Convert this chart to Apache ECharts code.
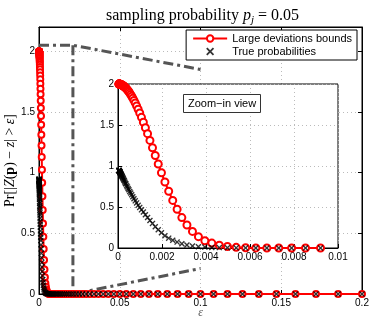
<!DOCTYPE html>
<html>
<head>
<meta charset="utf-8">
<script src="https://cdn.jsdelivr.net/npm/echarts@6/dist/echarts.min.js"></script>
<style>
  html, body { margin: 0; padding: 0; background: #fff; }
  #chart { width: 374px; height: 320px; }
</style>
</head>
<body>
<div id="chart"></div>
<script>
  // epsilon values (log spaced), ascending
  var eps = [
    0.0000421,
    0.0000455, 0.0000491, 0.0000531, 0.0000573, 0.0000619, 0.0000668, 0.0000722, 0.0000780, 0.0000842, 0.0000909,
    0.000098, 0.000106, 0.000115, 0.000124, 0.000134, 0.000144, 0.000156, 0.000168, 0.000182, 0.000196,
    0.000212, 0.000229, 0.000247, 0.000267, 0.000288, 0.000311, 0.000336, 0.000363, 0.000392, 0.000424,
    0.000458, 0.000494, 0.000534, 0.000577, 0.000623, 0.000673, 0.000726, 0.000784, 0.000847, 0.000915,
    0.000988, 0.001067, 0.001153, 0.001245, 0.001344, 0.001452, 0.001568, 0.001693, 0.001829, 0.001975,
    0.002133, 0.002304, 0.002488, 0.002687, 0.002902, 0.003134, 0.003385, 0.003656, 0.003948, 0.004264,
    0.004605, 0.004974, 0.005372, 0.005802, 0.006266, 0.006767, 0.007308, 0.007893, 0.008524, 0.009206,
    0.00994, 0.01074, 0.01160, 0.01253, 0.01353, 0.01461, 0.01578, 0.01704, 0.01840, 0.01988,
    0.02147, 0.02318, 0.02504, 0.02704, 0.02920, 0.03154, 0.03406, 0.03679, 0.03973, 0.04291,
    0.04634, 0.05005, 0.05405, 0.05838, 0.06305, 0.06809, 0.07354, 0.07942, 0.08578, 0.09264,
    0.1000, 0.1081, 0.1167, 0.1260, 0.1361, 0.1470, 0.1588, 0.1715, 0.1852, 0.2
  ];
  // Large deviations bounds
  var bound = [
    1.999,
    1.999, 1.999, 1.999, 1.999, 1.998, 1.998, 1.998, 1.998, 1.997, 1.997,
    1.996, 1.996, 1.995, 1.994, 1.993, 1.992, 1.990, 1.989, 1.987, 1.985,
    1.982, 1.979, 1.976, 1.972, 1.967, 1.962, 1.955, 1.948, 1.940, 1.929,
    1.918, 1.905, 1.889, 1.871, 1.851, 1.827, 1.800, 1.769, 1.733, 1.692,
    1.646, 1.593, 1.533, 1.467, 1.394, 1.312, 1.223, 1.128, 1.024, 0.917,
    0.805, 0.692, 0.580, 0.472, 0.371, 0.281, 0.202, 0.138, 0.089, 0.060,
    0.035, 0.018, 0.008, 0.003, 0.001, 0.0002, 0, 0, 0, 0,
    0, 0, 0, 0, 0, 0, 0, 0, 0, 0,
    0, 0, 0, 0, 0, 0, 0, 0, 0, 0,
    0, 0, 0, 0, 0, 0, 0, 0, 0, 0,
    0, 0, 0, 0, 0, 0, 0, 0, 0, 0
  ];
  // True probabilities
  var trueProb = [
    0.948,
    0.946, 0.944, 0.942, 0.940, 0.938, 0.936, 0.933, 0.930, 0.928, 0.925,
    0.920, 0.915, 0.910, 0.905, 0.900, 0.895, 0.890, 0.885, 0.875, 0.870,
    0.860, 0.850, 0.840, 0.830, 0.820, 0.805, 0.790, 0.780, 0.760, 0.745,
    0.725, 0.710, 0.690, 0.670, 0.650, 0.625, 0.600, 0.575, 0.550, 0.520,
    0.495, 0.465, 0.440, 0.405, 0.372, 0.335, 0.300, 0.260, 0.222, 0.186,
    0.150, 0.120, 0.095, 0.072, 0.051, 0.036, 0.024, 0.015, 0.011, 0.007,
    0.005, 0.003, 0.002, 0.0015, 0.001, 0.0005, 0, 0, 0, 0,
    0, 0, 0, 0, 0, 0, 0, 0, 0, 0,
    0, 0, 0, 0, 0, 0, 0, 0, 0, 0,
    0, 0, 0, 0, 0, 0, 0, 0, 0, 0,
    0, 0, 0, 0, 0, 0, 0, 0, 0, 0
  ];
  var insetMaxEps = 0.0095;
  // zoom box outline and connectors (data coords of main plot)
  var zoomTop = [[0, 2.05], [0.021, 2.05], [0.1, 1.85]];
  var zoomSide = [[0.021, 2.05], [0.021, 0], [0.1, 0.21]];

  var names = ['Large deviations bounds', 'True probabilities'];
  var xSym = 'path://M0,1.6L1.6,0L5,3.4L8.4,0L10,1.6L6.6,5L10,8.4L8.4,10L5,6.6L1.6,10L0,8.4L3.4,5Z';
  var sans = 'Liberation Sans';
  var serif = 'Liberation Serif';

  var mainBound = eps.map(function (e, i) { return [e, bound[i]]; });
  var mainTrue = eps.map(function (e, i) { return [e, trueProb[i]]; });
  var inBound = mainBound.filter(function (p) { return p[0] <= insetMaxEps; });
  var inTrue = mainTrue.filter(function (p) { return p[0] <= insetMaxEps; });

  function axis(opt) {
    var a = {
      type: 'value',
      nameMoveOverlap: false,
      axisLine: { show: true, onZero: false, lineStyle: { color: '#000', width: 1 } },
      axisTick: { show: true, inside: true, length: 4, lineStyle: { color: '#000' } },
      axisLabel: { show: true, color: '#000', fontSize: 10, fontFamily: sans, margin: 4 },
      splitLine: { show: false }
    };
    return Object.assign(a, opt);
  }
  var dotted = { show: true, lineStyle: { color: '#bbb', width: 1, type: [1, 3] } };

  var chart = echarts.init(document.getElementById('chart'));
  var option = {
    animation: false,
    title: [{
      text: '{n|sampling probability }{i|p}{s|j}{n| = 0.05}',
      left: 101,
      top: 1,
      textStyle: {
        rich: {
          n: { fontFamily: serif, fontSize: 16, fontWeight: 'normal', color: '#000' },
          i: { fontFamily: serif, fontSize: 16, fontWeight: 'normal', fontStyle: 'italic', color: '#000' },
          s: { fontFamily: serif, fontSize: 11, fontWeight: 'normal', fontStyle: 'italic', color: '#000', padding: [9, 0, 0, 0] }
        }
      }
    }, {
      text: 'Zoom\u2212in view',
      left: 183,
      top: 94,
      padding: [4, 5, 4, 5],
      borderColor: '#333',
      borderWidth: 1,
      backgroundColor: '#fff',
      z: 20,
      textStyle: { fontFamily: sans, fontSize: 11, fontWeight: 'normal', color: '#000' }
    }],
    legend: {
      data: names,
      orient: 'vertical',
      right: 17,
      top: 30,
      backgroundColor: '#fff',
      borderColor: '#000',
      borderWidth: 1,
      padding: [3, 5, 3, 6],
      itemGap: 2,
      itemWidth: 34,
      itemHeight: 8,
      z: 20,
      textStyle: { fontFamily: sans, fontSize: 11, color: '#000' }
    },
    grid: [
      { left: 39, top: 27, width: 323, height: 267, outerBoundsMode: 'none', show: true, borderColor: '#000', borderWidth: 1, backgroundColor: '#fff' },
      { left: 118, top: 84, width: 220, height: 164, outerBoundsMode: 'none', show: true, borderColor: '#000', borderWidth: 1, backgroundColor: '#fff', z: 5 }
    ],
    xAxis: [
      axis({ gridIndex: 0, min: 0, max: 0.2, interval: 0.05, splitLine: dotted,
        name: '\u03b5', nameLocation: 'middle', nameGap: 13,
        nameTextStyle: { fontFamily: serif, fontStyle: 'italic', fontSize: 12, color: '#555' } }),
      axis({ gridIndex: 0, position: 'top', min: 0, max: 0.2, interval: 0.05, axisLabel: { show: false } }),
      axis({ gridIndex: 1, min: 0, max: 0.01, interval: 0.002, splitLine: dotted, z: 6 })
    ],
    yAxis: [
      axis({ gridIndex: 0, min: 0, max: 2.2, interval: 0.5, splitLine: dotted,
        axisLabel: { color: '#000', fontSize: 10, fontFamily: sans, margin: 4, showMaxLabel: false },
        name: '{n|Pr[|}{i|Z}{n|(}{b|p}{n|) \u2212 }{i|z}{n|| > }{i|\u03b5}{n|]}',
        nameLocation: 'middle', nameGap: 22,
        nameTextStyle: {
          rich: {
            n: { fontFamily: serif, fontSize: 14, color: '#000' },
            i: { fontFamily: serif, fontSize: 14, fontStyle: 'italic', color: '#000' },
            b: { fontFamily: serif, fontSize: 14, fontWeight: 'bold', color: '#000' }
          }
        } }),
      axis({ gridIndex: 0, position: 'right', min: 0, max: 2.2, interval: 0.5, axisLabel: { show: false } }),
      axis({ gridIndex: 1, min: 0, max: 2, interval: 0.5, splitLine: dotted, z: 6 })
    ],
    series: [
      {
        type: 'line', silent: true, xAxisIndex: 0, yAxisIndex: 0, data: zoomTop,
        symbol: 'none', z: 2, lineStyle: { color: '#555', width: 3, type: [10, 4, 3, 4] }
      },
      {
        type: 'line', silent: true, xAxisIndex: 0, yAxisIndex: 0, data: zoomSide,
        symbol: 'none', z: 2, lineStyle: { color: '#555', width: 3, type: [10, 4, 3, 4] }
      },
      {
        name: names[0], type: 'line', xAxisIndex: 0, yAxisIndex: 0, data: mainBound,
        symbol: 'emptyCircle', symbolSize: 6, showAllSymbol: true, z: 3,
        lineStyle: { color: '#f00', width: 2 },
        itemStyle: { color: '#f00', borderWidth: 2 }
      },
      {
        name: names[1], type: 'scatter', xAxisIndex: 0, yAxisIndex: 0, data: mainTrue,
        symbol: xSym, symbolSize: 6, z: 4,
        itemStyle: { color: '#000' }
      },
      {
        name: names[0], type: 'line', xAxisIndex: 2, yAxisIndex: 2, data: inBound,
        symbol: 'emptyCircle', symbolSize: 7, showAllSymbol: true, z: 7,
        lineStyle: { color: '#f00', width: 2 },
        itemStyle: { color: '#f00', borderWidth: 2 }
      },
      {
        name: names[1], type: 'scatter', xAxisIndex: 2, yAxisIndex: 2, data: inTrue,
        symbol: xSym, symbolSize: 6, z: 8,
        itemStyle: { color: '#000' }
      }
    ]
  };
  chart.setOption(option);
</script>
</body>
</html>
